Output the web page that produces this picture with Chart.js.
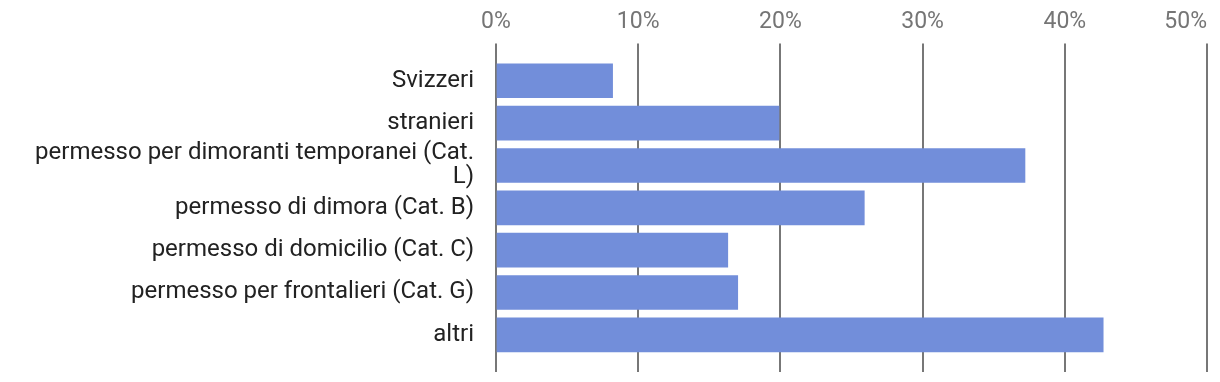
<!DOCTYPE html>
<html>
<head>
<meta charset="utf-8">
<script src="https://cdn.jsdelivr.net/npm/chart.js@4/dist/chart.umd.min.js"></script>
<style>
  html, body { margin: 0; padding: 0; background: #fff; }
  #wrap { width: 1220px; height: 382px; }
</style>
</head>
<body>
<div id="wrap"><canvas id="chart1"></canvas></div>
<script>
const categories = [
  "Svizzeri",
  "stranieri",
  ["permesso per dimoranti temporanei (Cat.", "L)"],
  "permesso di dimora (Cat. B)",
  "permesso di domicilio (Cat. C)",
  "permesso per frontalieri (Cat. G)",
  "altri"
];
const shares = [8.2, 19.9, 37.2, 25.9, 16.3, 17.0, 42.7];
const xTicks = [0, 10, 20, 30, 40, 50];

const gridColor = '#777777';

// right-align the last x label so it stays inside the canvas
const lastTickRight = {
  id: 'lastTickRight',
  beforeDraw(chart) {
    const items = chart.scales.x.getLabelItems();
    const last = items[items.length - 1];
    if (last) last.options.textAlign = 'right';
  }
};

const chart1 = new Chart(document.getElementById('chart1'), {
  type: 'bar',
  data: {
    labels: categories,
    datasets: [{
      data: shares,
      backgroundColor: '#728eda',
      borderWidth: 0,
      barThickness: 34
    }]
  },
  plugins: [lastTickRight],
  options: {
    indexAxis: 'y',
    responsive: true,
    maintainAspectRatio: false,
    animation: false,
    layout: { padding: { top: 0, right: 13, bottom: 10, left: 0 } },
    plugins: { legend: { display: false }, tooltip: { enabled: false } },
    scales: {
      x: {
        position: 'top',
        min: 0,
        max: 50,
        afterBuildTicks: (scale) => { scale.ticks = xTicks.map(v => ({ value: v })); },
        afterFit: (scale) => { scale.paddingRight = 0; scale.paddingLeft = 0; },
        ticks: {
          callback: (v) => v + '%',
          color: '#757575',
          padding: 8,
          font: { family: 'Roboto', size: 23 }
        },
        grid: { color: gridColor, lineWidth: 2, drawTicks: true, tickLength: 16, tickColor: gridColor },
        border: { display: false }
      },
      // only there to continue the gridlines below the last bar
      x2: {
        position: 'bottom',
        min: 0,
        max: 50,
        afterBuildTicks: (scale) => { scale.ticks = xTicks.map(v => ({ value: v })); },
        afterFit: (scale) => { scale.paddingRight = 0; scale.paddingLeft = 0; scale.height = 16; },
        ticks: { display: false },
        grid: { drawOnChartArea: false, color: gridColor, lineWidth: 2, tickLength: 16, tickColor: gridColor },
        border: { display: false }
      },
      y: {
        afterFit: (scale) => { scale.width = 496; },
        ticks: {
          autoSkip: false,
          color: '#222222',
          padding: 14,
          font: { family: 'Roboto', size: 24, lineHeight: 1.0 }
        },
        grid: { display: false },
        border: { display: false }
      }
    }
  }
});
</script>
</body>
</html>
